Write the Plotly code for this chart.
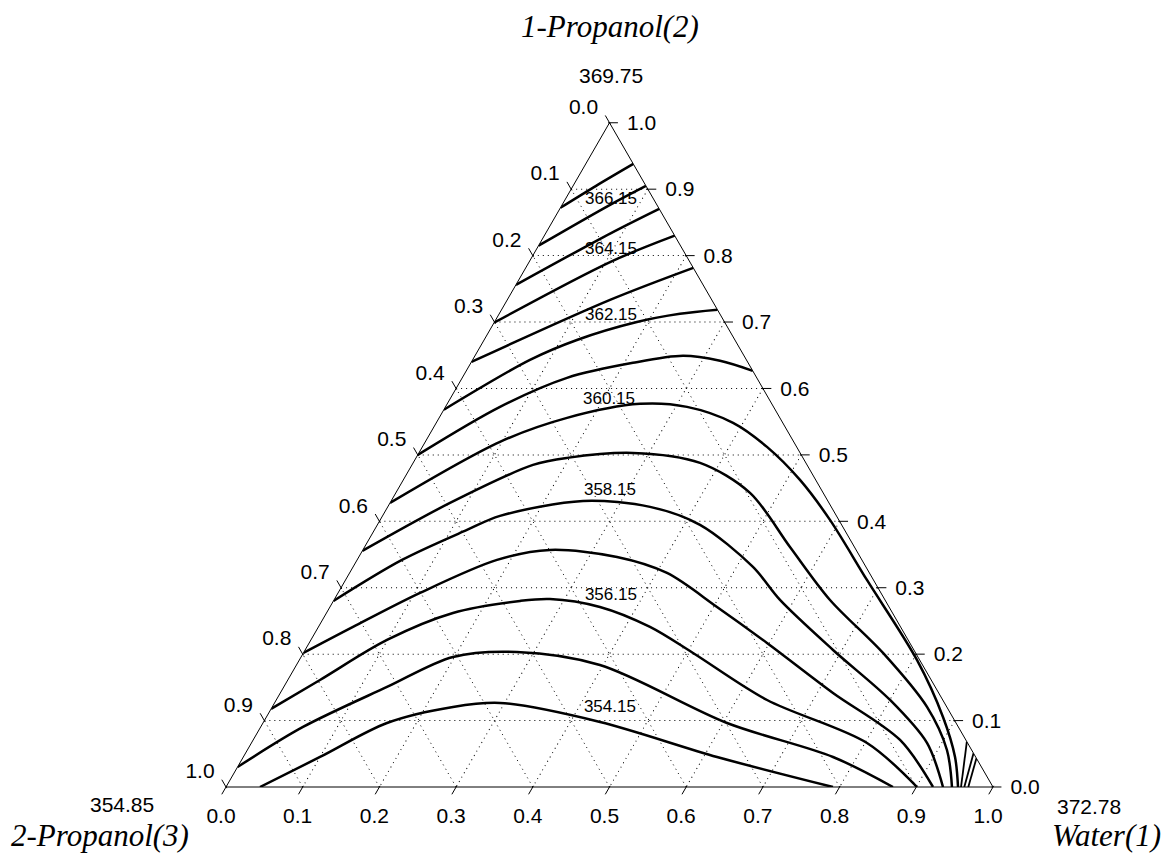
import plotly.graph_objects as go

# ---- Isotherms of the Water(1) / 1-Propanol(2) / 2-Propanol(3) system ----
# each isotherm: mole fraction of water (x1) and of 1-propanol (x2); x3 = 1 - x1 - x2
water_36715 = [0.000, 0.030, 0.062]
prop1_36715 = [0.872, 0.905, 0.938]

water_36615 = [0.000, 0.0625, 0.095]
prop1_36615 = [0.815, 0.8765, 0.905]

water_36515 = [0.000, 0.085, 0.1295]
prop1_36515 = [0.756, 0.834, 0.8705]

water_36415 = [0.000, 0.1066, 0.170]
prop1_36415 = [0.699, 0.791, 0.830]

water_36315 = [0.000, 0.134, 0.2184]
prop1_36315 = [0.640, 0.7334, 0.7816]

water_36215 = [0.000, 0.0748, 0.121, 0.1857, 0.2357, 0.2816]
prop1_36215 = [0.568, 0.643, 0.673, 0.700, 0.7123, 0.7184]

water_36115 = [0.000, 0.0711, 0.1366, 0.2113, 0.2713, 0.3233, 0.3735]
prop1_36115 = [0.500, 0.5723, 0.616, 0.6386, 0.6491, 0.6416, 0.6265]

water_36015 = [0.000, 0.0974, 0.1668, 0.2514, 0.3149, 0.387, 0.4493, 0.5172,
               0.5864, 0.6798, 0.8052, 0.8821, 0.9279, 0.9544]
prop1_36015 = [0.4277, 0.5196, 0.5557, 0.5768, 0.5723, 0.5482, 0.512, 0.4623,
               0.4021, 0.3117, 0.1913, 0.1054, 0.0452, 0.000]

water_35915 = [0.000, 0.0782, 0.1578, 0.1969, 0.2791, 0.3741, 0.4618, 0.5546,
               0.6467, 0.7557, 0.8537, 0.9121, 0.9465]
prop1_35915 = [0.3554, 0.4277, 0.4849, 0.4955, 0.503, 0.488, 0.4428, 0.3614,
               0.2816, 0.2018, 0.1205, 0.0557, 0.000]

water_35815 = [0.000, 0.0585, 0.1207, 0.1532, 0.2501, 0.342, 0.4207, 0.5214,
               0.5815, 0.6883, 0.8003, 0.8808, 0.9348]
prop1_35815 = [0.2801, 0.3419, 0.387, 0.4081, 0.4307, 0.4217, 0.3946, 0.3313,
               0.2816, 0.2063, 0.131, 0.0663, 0.000]

water_35715 = [0.000, 0.0451, 0.1069, 0.1824, 0.2439, 0.3366, 0.4138, 0.5046,
               0.5969, 0.7206, 0.8434, 0.9218]
prop1_35715 = [0.2018, 0.241, 0.2922, 0.3419, 0.3569, 0.3464, 0.3223, 0.2711,
               0.2169, 0.1416, 0.0708, 0.000]

water_35615 = [0.000, 0.042, 0.0992, 0.1649, 0.2433, 0.2808, 0.352, 0.4323,
               0.508, 0.6399, 0.8026, 0.9009]
prop1_35615 = [0.1175, 0.1611, 0.2214, 0.262, 0.2801, 0.2831, 0.2711, 0.241,
               0.2018, 0.131, 0.0663, 0.000]

water_35515 = [0.000, 0.0552, 0.1346, 0.198, 0.2777, 0.3957, 0.605, 0.7688, 0.8696]
prop1_35515 = [0.0301, 0.0904, 0.1506, 0.1958, 0.2033, 0.1837, 0.0964, 0.0452, 0.000]

water_35415 = [0.0443, 0.100, 0.1617, 0.2357, 0.294, 0.4387, 0.6176, 0.7914]
prop1_35415 = [0.000, 0.0452, 0.0964, 0.1205, 0.1265, 0.0979, 0.0452, 0.000]

# water-rich branches next to the Water(1) corner
water_36115b = [0.9318, 0.9583]
prop1_36115b = [0.0682, 0.000]

water_36215b = [0.9492, 0.9626]
prop1_36215b = [0.0508, 0.000]

water_36315b = [0.9568, 0.9678]
prop1_36315b = [0.0432, 0.000]

isotherms = [
    (water_36715, prop1_36715), (water_36615, prop1_36615),
    (water_36515, prop1_36515), (water_36415, prop1_36415),
    (water_36315, prop1_36315), (water_36215, prop1_36215),
    (water_36115, prop1_36115), (water_36015, prop1_36015),
    (water_35915, prop1_35915), (water_35815, prop1_35815),
    (water_35715, prop1_35715), (water_35615, prop1_35615),
    (water_35515, prop1_35515), (water_35415, prop1_35415),
]
corner_branches = [
    (water_36115b, prop1_36115b), (water_36215b, prop1_36215b),
    (water_36315b, prop1_36315b),
]

# isotherm labels and the compositions where they are written
label_text = ["366.15", "364.15", "362.15", "360.15", "358.15", "356.15", "354.15"]
label_water = [0.060, 0.0976, 0.1473, 0.208, 0.2777, 0.358, 0.441]
label_prop1 = [0.884, 0.8087, 0.7093, 0.5828, 0.4458, 0.2877, 0.119]

# pure-component boiling points (K)
component_names = ["Water(1)", "1-Propanol(2)", "2-Propanol(3)"]
boiling_points = [372.78, 369.75, 354.85]

# axis scale: mole fraction 0.0 ... 1.0 in steps of 0.1 on each edge
tick_values = [i / 10 for i in range(11)]

SANS = "Liberation Sans, Arial, sans-serif"
SERIF = "Liberation Serif, Times New Roman, serif"

# pixel frame of the composition triangle
FIG_W, FIG_H = 1165, 854
LEFT_X, RIGHT_X, BASE_Y = 226.0, 993.0, 787.0
SIDE = RIGHT_X - LEFT_X
HEIGHT = SIDE * 3 ** 0.5 / 2
MID_X = (LEFT_X + RIGHT_X) / 2

# a second, transparent ternary frame reaches EXT beyond each edge (its
# coordinates are shifted by EXT), so ticks and tick labels just outside the
# triangle are placed on the same composition scale
EXT = 0.06
TICK_HALF = 0.0046              # half tick length, in mole-fraction units
LEFT_OFF = (-0.0444, 0.0211)    # (d water, d 1-propanol) of left-edge labels
BOTTOM_OFF = (0.0168, -0.0467)  # same for bottom-edge labels
RIGHT_OFF = (0.0432, -0.0030)   # same for right-edge labels


def tern(water, prop1):
    """a = 1-propanol, b = 2-propanol, c = water on the main triangle."""
    return dict(a=list(prop1), b=[1 - w - p for w, p in zip(water, prop1)],
                c=list(water), subplot="ternary")


def tern_outer(water, prop1):
    """Same compositions on the extended frame used for ticks and labels."""
    return dict(a=[p + EXT for p in prop1],
                b=[1 - w - p + EXT for w, p in zip(water, prop1)],
                c=[w + EXT for w in water], subplot="ternary2")


fig = go.Figure()

for water, prop1 in isotherms:
    fig.add_trace(go.Scatterternary(
        **tern(water, prop1),
        mode="lines",
        line=dict(color="black", width=2.5, shape="spline", smoothing=0.9),
        hoverinfo="skip",
    ))
for water, prop1 in corner_branches:
    fig.add_trace(go.Scatterternary(
        **tern(water, prop1),
        mode="lines",
        line=dict(color="black", width=1.8),
        hoverinfo="skip",
    ))

fig.add_trace(go.Scatterternary(
    **tern(label_water, label_prop1),
    mode="text",
    text=label_text,
    textposition="middle center",
    textfont=dict(family=SANS, size=17, color="black"),
    cliponaxis=False,
    hoverinfo="skip",
))

# ---- edge ticks (drawn along the grid directions) ----
tick_marker = dict(size=7, color="black", line=dict(width=1, color="black"))
n = len(tick_values)
# left edge: 2-Propanol(3) fraction
fig.add_trace(go.Scatterternary(
    **tern_outer([-TICK_HALF] * n, [1 - v + TICK_HALF for v in tick_values]),
    mode="markers", marker=dict(symbol="line-ew", angle=60, **tick_marker),
    cliponaxis=False, hoverinfo="skip",
))
# bottom edge: Water(1) fraction
fig.add_trace(go.Scatterternary(
    **tern_outer(tick_values, [-TICK_HALF] * n),
    mode="markers", marker=dict(symbol="line-ew", angle=-60, **tick_marker),
    cliponaxis=False, hoverinfo="skip",
))
# right edge: 1-Propanol(2) fraction
fig.add_trace(go.Scatterternary(
    **tern_outer([1 - v + TICK_HALF for v in tick_values], tick_values),
    mode="markers", marker=dict(symbol="line-ew", angle=0, **tick_marker),
    cliponaxis=False, hoverinfo="skip",
))

# ---- edge tick labels ----
tick_font = dict(family=SANS, size=21, color="black")
tick_text = ["%.1f" % v for v in tick_values]
for water, prop1 in [
    ([LEFT_OFF[0]] * n, [1 - v + LEFT_OFF[1] for v in tick_values]),
    ([v + BOTTOM_OFF[0] for v in tick_values], [BOTTOM_OFF[1]] * n),
    ([1 - v + RIGHT_OFF[0] for v in tick_values], [v + RIGHT_OFF[1] for v in tick_values]),
]:
    fig.add_trace(go.Scatterternary(
        **tern_outer(water, prop1),
        mode="text", text=tick_text,
        textposition="middle center", textfont=tick_font,
        cliponaxis=False, hoverinfo="skip",
    ))

axis_style = dict(
    min=0,
    tickmode="array",
    tickvals=tick_values[1:-1],
    ticks="",
    showticklabels=False,
    showline=True,
    linecolor="black",
    linewidth=1,
    showgrid=True,
    gridcolor="black",
    gridwidth=1,
    griddash="1px,4px",
    title=dict(text=""),
    layer="above traces",
)
hidden_axis = dict(min=0, ticks="", showticklabels=False, showline=False,
                   showgrid=False, title=dict(text=""))

big_side = SIDE * (1 + 3 * EXT)
big_base = BASE_Y + EXT * HEIGHT
big_top = big_base - HEIGHT * (1 + 3 * EXT)

fig.update_layout(
    width=FIG_W,
    height=FIG_H,
    margin=dict(l=0, r=0, t=0, b=0),
    paper_bgcolor="white",
    showlegend=False,
    ternary=dict(
        sum=1,
        bgcolor="white",
        domain=dict(x=[LEFT_X / FIG_W, RIGHT_X / FIG_W],
                    y=[1 - BASE_Y / FIG_H, 1 - (BASE_Y - HEIGHT) / FIG_H]),
        aaxis=axis_style,
        baxis=axis_style,
        caxis=axis_style,
    ),
    ternary2=dict(
        sum=1 + 3 * EXT,
        bgcolor="rgba(0,0,0,0)",
        domain=dict(x=[(MID_X - big_side / 2) / FIG_W, (MID_X + big_side / 2) / FIG_W],
                    y=[1 - big_base / FIG_H, 1 - big_top / FIG_H]),
        aaxis=hidden_axis,
        baxis=hidden_axis,
        caxis=hidden_axis,
    ),
)

# component names and their boiling points at the three corners
name_font = dict(family=SERIF, size=31, color="black")
temp_font = dict(family=SANS, size=21, color="black")
corner_spots = {
    "1-Propanol(2)": ((0.5232, 0.9685), (0.5245, 0.9120)),
    "2-Propanol(3)": ((0.0858, 0.0211), (0.1050, 0.0574)),
    "Water(1)": ((0.9494, 0.0211), (0.9350, 0.0562)),
}
for name, T in zip(component_names, boiling_points):
    (nx, ny), (tx, ty) = corner_spots[name]
    fig.add_annotation(x=nx, y=ny, xref="paper", yref="paper", text="<i>%s</i>" % name,
                       showarrow=False, font=name_font, xanchor="center", yanchor="middle")
    fig.add_annotation(x=tx, y=ty, xref="paper", yref="paper", text="%.2f" % T,
                       showarrow=False, font=temp_font, xanchor="center", yanchor="middle")

fig.write_html("out.html")
